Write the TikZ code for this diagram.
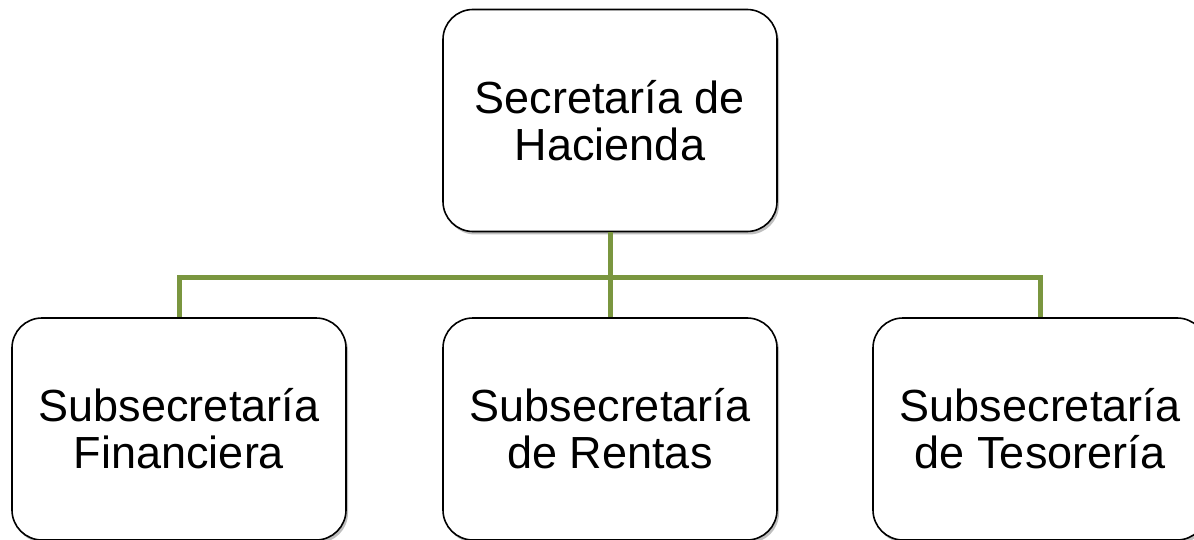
\documentclass[tikz,border=0pt]{standalone}
\usepackage{fontspec}
\setmainfont{Liberation Sans}
\usetikzlibrary{shadows}
\definecolor{conngreen}{RGB}{122,150,63}
\begin{document}
\begin{tikzpicture}[x=1pt,y=1pt,
  orgbox/.style={draw=black, line width=1.6pt, rounded corners=30pt, fill=white,
    minimum width=334pt, minimum height=222pt, align=center,
    font=\fontsize{45}{47}\selectfont,
    drop shadow={shadow xshift=2pt, shadow yshift=-3pt, opacity=0.25, fill=black}},
  conn/.style={draw=conngreen, line width=5pt, line join=miter}]
\useasboundingbox (0,0) rectangle (1194,-540);
\node[orgbox] (top) at (610,-120.5) {Secretaría de\\Hacienda};
\node[orgbox] (fin) at (179,-429) {Subsecretaría\\Financiera};
\node[orgbox] (ren) at (610,-429) {Subsecretaría\\de Rentas};
\node[orgbox] (tes) at (1040,-429) {Subsecretaría\\de Tesorería};
\coordinate (bus) at (610,-277);
\draw[conn] (fin.north) |- (bus) -| (tes.north);
\draw[conn] (top.south) -- (ren.north);
\end{tikzpicture}
\end{document}
